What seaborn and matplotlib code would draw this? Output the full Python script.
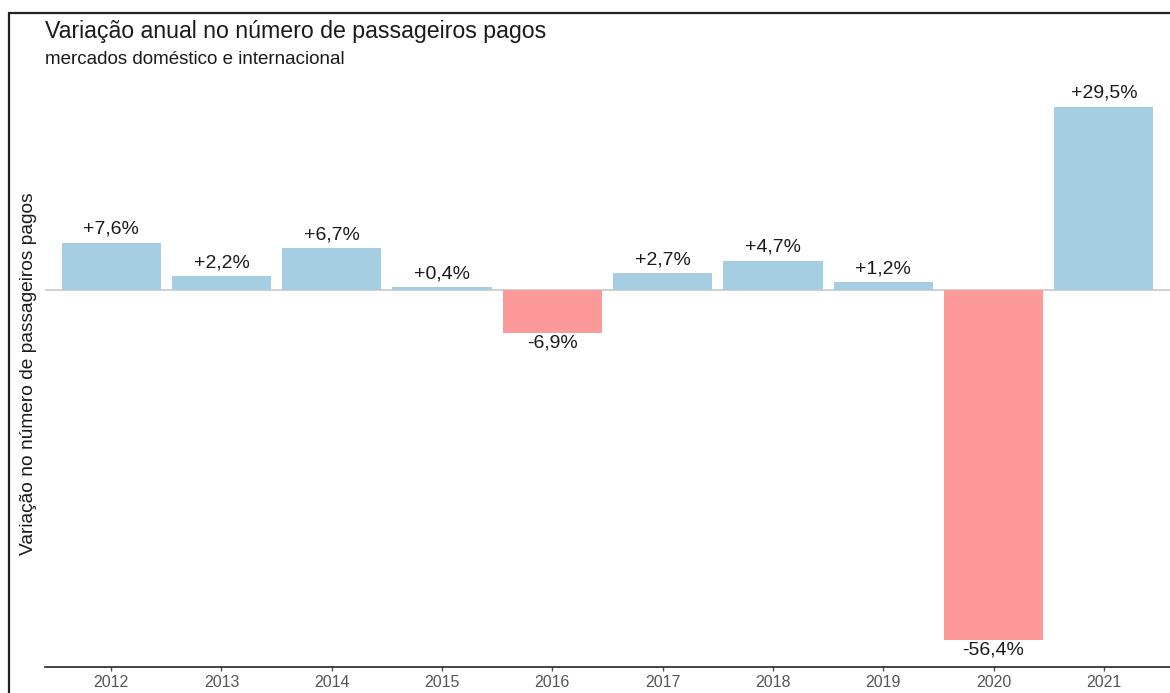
import matplotlib
matplotlib.use("Agg")
import matplotlib.pyplot as plt
import matplotlib.patches as mpatches
import seaborn as sns
import pandas as pd

anos = ["2012", "2013", "2014", "2015", "2016", "2017", "2018", "2019", "2020", "2021"]
variacao = [7.6, 2.2, 6.7, 0.4, -6.9, 2.7, 4.7, 1.2, -56.4, 29.5]
rotulos = ["+7,6%", "+2,2%", "+6,7%", "+0,4%", "-6,9%", "+2,7%", "+4,7%", "+1,2%", "-56,4%", "+29,5%"]

titulo = "Variação anual no número de passageiros pagos"
subtitulo = "mercados doméstico e internacional"
rotulo_y = "Variação no número de passageiros pagos"

cor_pos = "#A6CEE3"
cor_neg = "#FB9A99"

sns.set_theme(style="white")
plt.rcParams["font.family"] = ["Liberation Sans", "DejaVu Sans"]

df = pd.DataFrame({"ano": anos, "variacao": variacao})
df["sinal"] = ["pos" if v >= 0 else "neg" for v in variacao]

fig = plt.figure(figsize=(11.7, 6.93), dpi=100)
ax = fig.add_axes([45 / 1170, 26 / 693, 1 - 45 / 1170, (667 - 80) / 693])

ax.axhline(0, color="#c8c8c8", lw=1.2, zorder=0)
sns.barplot(data=df, x="ano", y="variacao", hue="sinal",
            palette={"pos": cor_pos, "neg": cor_neg}, dodge=False,
            width=0.9, legend=False, ax=ax, zorder=2, saturation=1,
            linewidth=0, edgecolor="none")

for i, (v, t) in enumerate(zip(variacao, rotulos)):
    if v >= 0:
        ax.annotate(t, (i, v), xytext=(0, 3.5), textcoords="offset points",
                    ha="center", va="bottom", fontsize=14, color="#1a1a1a")
    else:
        ax.annotate(t, (i, v), xytext=(0, -1), textcoords="offset points",
                    ha="center", va="top", fontsize=14, color="#1a1a1a")

lo, hi = min(variacao), max(variacao)
span = hi - lo
ax.set_ylim(lo - 0.05 * span, hi + 0.05 * span)
ax.set_xlim(-0.6, len(anos) - 0.4)

for s in ["left", "right", "top"]:
    ax.spines[s].set_visible(False)
ax.spines["bottom"].set_color("#222222")
ax.spines["bottom"].set_linewidth(1.2)
ax.set_yticks([])
ax.set_xlabel("")
ax.set_ylabel(rotulo_y, fontsize=13.8, color="#1a1a1a", labelpad=6)
ax.tick_params(axis="x", bottom=True, length=3, width=1, color="#555555",
               labelsize=11.5, labelcolor="#555555", pad=3)

fig.text(45 / 1170, 1 - 38 / 693, titulo, fontsize=16.7, color="#1a1a1a",
         ha="left", va="baseline")
fig.text(45 / 1170, 1 - 64 / 693, subtitulo, fontsize=13.5, color="#1a1a1a",
         ha="left", va="baseline")

frame = mpatches.Rectangle((9 / 1170, -0.05), 1.1, 1 - 13 / 693 + 0.05,
                           transform=fig.transFigure, fill=False,
                           edgecolor="#222222", lw=1.6, zorder=10)
fig.patches.append(frame)

fig.savefig("out.png", dpi=100)
